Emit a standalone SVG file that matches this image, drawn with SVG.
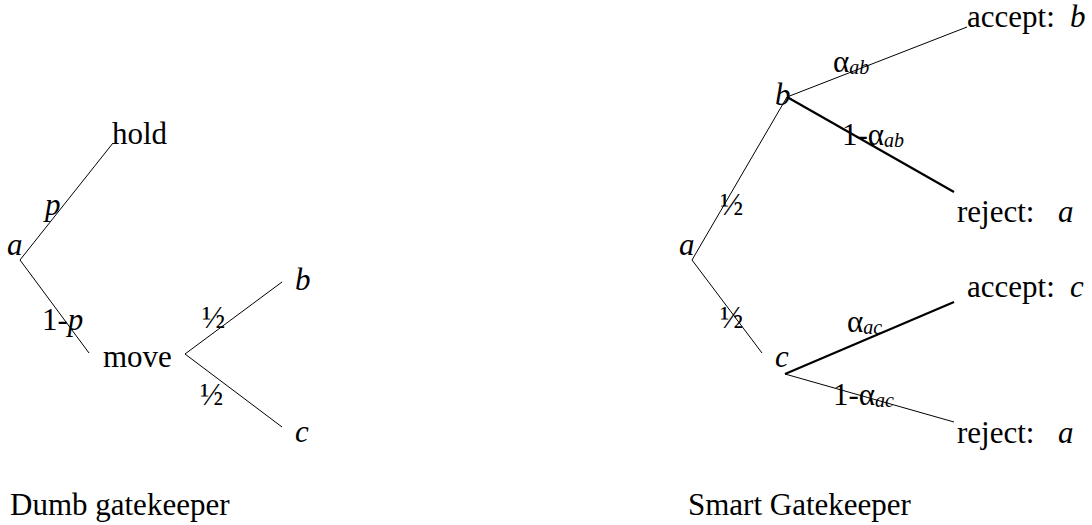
<svg xmlns="http://www.w3.org/2000/svg" width="1092" height="525" viewBox="0 0 1092 525">
<style>
  text { font-family: 'Liberation Serif', 'DejaVu Serif', serif; font-size: 31px; fill: #000; }
  .i { font-style: italic; }
  .sub { font-style: italic; font-size: 20px; }
  .edge { stroke: #000; stroke-width: 1; fill: none; }
  .thick { stroke: #000; stroke-width: 2.2; fill: none; }
</style>
<rect x="0" y="0" width="1092" height="525" fill="#fff"/>

<g id="connectors">
  <line class="edge" x1="20" y1="260" x2="113" y2="143"/>
  <line class="edge" x1="20" y1="260" x2="89" y2="353"/>
  <line class="edge" x1="185" y1="354" x2="282" y2="282"/>
  <line class="edge" x1="185" y1="354" x2="282" y2="427"/>
  <line class="edge" x1="692" y1="260" x2="787" y2="97"/>
  <line class="edge" x1="692" y1="260" x2="762" y2="353"/>
  <line class="edge" x1="787" y1="97" x2="967" y2="27"/>
  <line class="thick" x1="787" y1="97" x2="954" y2="192"/>
  <line class="thick" x1="785" y1="374" x2="954" y2="302"/>
  <line class="edge" x1="785" y1="374" x2="954" y2="422"/>
</g>

<g id="edge-labels" font-family="Liberation Serif, serif">
  <text x="45" y="215" class="i">p</text>
  <text x="42" y="330">1-<tspan class="i">p</tspan></text>
  <text x="202" y="328">½</text>
  <text x="200" y="405">½</text>
  <text x="720" y="215">½</text>
  <text x="720" y="328">½</text>
  <text x="833" y="72">α<tspan class="sub" dy="2">ab</tspan></text>
  <text x="842" y="145">1-α<tspan class="sub" dy="2">ab</tspan></text>
  <text x="847" y="332">α<tspan class="sub" dy="2">ac</tspan></text>
  <text x="833" y="405">1-α<tspan class="sub" dy="2">ac</tspan></text>
</g>

<g id="dumb-a"><text x="7" y="255" class="i">a</text></g>
<g id="dumb-hold"><text x="112" y="144">hold</text></g>
<g id="dumb-move"><text x="103" y="367">move</text></g>
<g id="dumb-b"><text x="295" y="290" class="i">b</text></g>
<g id="dumb-c"><text x="295" y="442" class="i">c</text></g>

<g id="smart-a"><text x="679" y="255" class="i">a</text></g>
<g id="smart-b"><text x="775" y="105" class="i">b</text></g>
<g id="smart-c"><text x="775" y="367" class="i">c</text></g>
<g id="accept-b"><text x="967" y="27">accept:<tspan x="1070" class="i">b</tspan></text></g>
<g id="reject-a1"><text x="957" y="222">reject:<tspan x="1058" class="i">a</tspan></text></g>
<g id="accept-c"><text x="967" y="297">accept:<tspan x="1070" class="i">c</tspan></text></g>
<g id="reject-a2"><text x="957" y="443">reject:<tspan x="1058" class="i">a</tspan></text></g>

<g id="title-dumb"><text x="10" y="515">Dumb gatekeeper</text></g>
<g id="title-smart"><text x="688" y="515">Smart Gatekeeper</text></g>
</svg>
